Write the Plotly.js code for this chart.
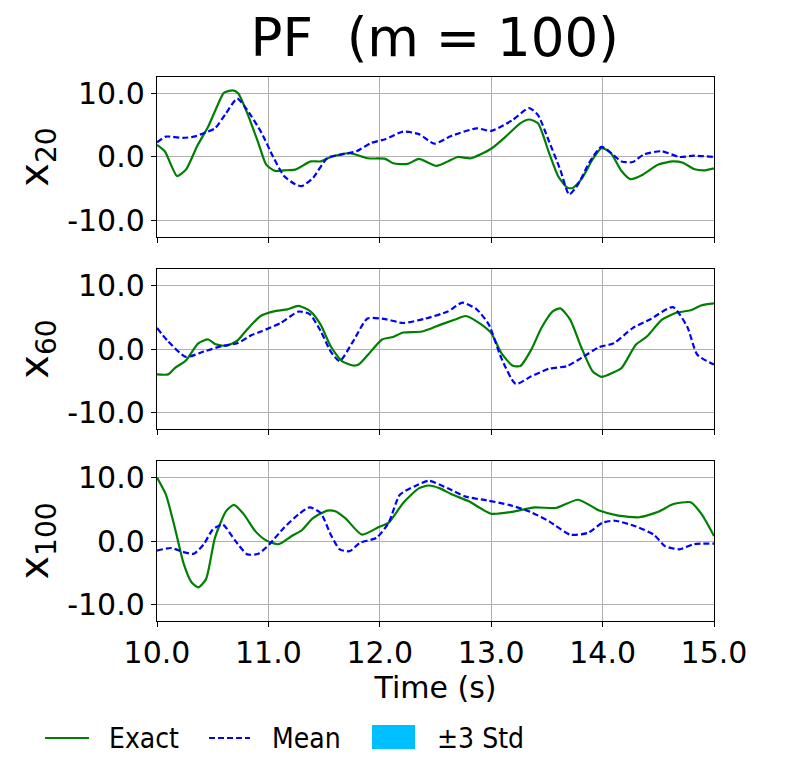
<!DOCTYPE html>
<html>
<head>
<meta charset="utf-8">
<script src="https://cdn.plot.ly/plotly-3.0.1.min.js"></script>
<style>
  body { margin: 0; background: #fff; }
  #plot { width: 805px; height: 781px; }
</style>
</head>
<body>
<div id="plot"></div>
<script>
// state x20: exact and PF mean
var t20Exact = [10.0, 10.07, 10.18, 10.26, 10.36, 10.46, 10.55, 10.6, 10.68, 10.73, 10.81, 10.91, 10.98, 11.06, 11.14, 11.24, 11.38, 11.47, 11.56, 11.73, 11.89, 12.05, 12.12, 12.25, 12.35, 12.51, 12.61, 12.7, 12.82, 13.0, 13.13, 13.26, 13.34, 13.42, 13.52, 13.6, 13.68, 13.73, 13.81, 13.91, 13.99, 14.07, 14.17, 14.25, 14.36, 14.5, 14.63, 14.72, 14.82, 14.92, 15.0];
var x20Exact = [1.9, 0.9, -3.0, -2.0, 1.7, 4.8, 8.4, 10.1, 10.5, 10.0, 6.9, 2.2, -1.2, -2.2, -2.1, -2.0, -0.7, -0.7, 0.0, 0.6, -0.2, -0.3, -1.0, -1.1, -0.3, -1.4, -0.7, 0.0, -0.2, 1.3, 3.2, 5.3, 5.9, 5.3, 0.6, -3.0, -4.8, -4.9, -3.5, -0.4, 1.4, 0.7, -2.2, -3.5, -2.8, -1.2, -0.7, -0.9, -1.9, -2.1, -1.8];
var t20Mean = [10.0, 10.08, 10.23, 10.33, 10.42, 10.52, 10.62, 10.72, 10.81, 10.94, 11.04, 11.14, 11.24, 11.3, 11.4, 11.53, 11.66, 11.79, 11.92, 12.05, 12.21, 12.35, 12.49, 12.64, 12.87, 13.0, 13.09, 13.19, 13.34, 13.42, 13.52, 13.62, 13.7, 13.78, 13.88, 13.99, 14.09, 14.17, 14.27, 14.37, 14.53, 14.69, 14.82, 15.0];
var x20Mean = [2.3, 3.2, 3.0, 3.2, 3.75, 4.5, 6.9, 9.2, 7.4, 3.75, 0.1, -3.0, -4.3, -4.6, -3.3, -0.15, 0.4, 0.9, 2.2, 2.8, 4.0, 3.6, 2.1, 3.3, 4.5, 4.1, 4.8, 5.8, 7.7, 6.6, 2.4, -2.0, -5.9, -4.3, -0.9, 1.6, 0.4, -0.7, -0.8, 0.4, 0.9, 0.0, 0.2, 0.0];

// state x60
var t60Exact = [10.0, 10.1, 10.16, 10.26, 10.37, 10.46, 10.52, 10.62, 10.72, 10.81, 10.93, 11.07, 11.17, 11.27, 11.38, 11.47, 11.56, 11.66, 11.76, 11.81, 11.89, 12.02, 12.12, 12.21, 12.38, 12.54, 12.67, 12.77, 12.9, 13.0, 13.09, 13.19, 13.26, 13.36, 13.45, 13.55, 13.62, 13.71, 13.81, 13.91, 13.99, 14.09, 14.17, 14.3, 14.4, 14.53, 14.66, 14.79, 14.89, 15.0];
var x60Exact = [-4.0, -4.0, -3.0, -1.8, 0.9, 1.5, 0.8, 0.5, 1.3, 3.1, 5.2, 6.0, 6.25, 6.8, 5.9, 3.8, 0.4, -1.9, -2.6, -2.45, -1.0, 1.5, 1.9, 2.6, 2.75, 3.8, 4.6, 5.2, 4.0, 2.5, -0.6, -2.6, -2.7, -0.1, 3.3, 5.9, 6.4, 4.6, 0.2, -3.5, -4.4, -3.75, -3.0, 0.7, 2.0, 4.6, 5.7, 6.1, 6.9, 7.2];
var t60Mean = [10.0, 10.1, 10.26, 10.42, 10.59, 10.72, 10.85, 10.94, 11.11, 11.27, 11.37, 11.47, 11.56, 11.64, 11.76, 11.89, 12.05, 12.21, 12.41, 12.61, 12.74, 12.87, 12.98, 13.09, 13.22, 13.36, 13.52, 13.68, 13.81, 13.97, 14.1, 14.27, 14.43, 14.63, 14.76, 14.85, 15.0];
var x60Mean = [3.3, 1.2, -1.25, -0.4, 0.5, 0.9, 2.2, 2.8, 4.1, 5.9, 5.5, 2.8, -0.4, -1.9, 1.2, 4.8, 4.7, 4.1, 4.8, 5.9, 7.3, 6.25, 3.8, -1.4, -5.5, -4.3, -3.1, -2.7, -1.4, 0.3, 0.9, 3.3, 4.7, 6.6, 3.5, -0.9, -2.45];

// state x100
var t100Exact = [10.0, 10.08, 10.16, 10.24, 10.31, 10.37, 10.44, 10.52, 10.62, 10.69, 10.78, 10.88, 10.98, 11.09, 11.21, 11.3, 11.4, 11.53, 11.6, 11.69, 11.84, 11.99, 12.08, 12.21, 12.35, 12.44, 12.54, 12.64, 12.8, 13.0, 13.19, 13.39, 13.58, 13.78, 13.97, 14.14, 14.33, 14.5, 14.63, 14.79, 14.89, 15.0];
var x100Exact = [10.0, 7.3, 2.1, -3.6, -6.5, -7.3, -6.0, 0.5, 4.7, 5.7, 4.2, 1.6, 0.1, -0.5, 0.8, 1.7, 3.6, 4.8, 4.7, 3.6, 1.0, 2.2, 2.9, 6.0, 8.3, 8.75, 8.3, 7.4, 6.25, 4.3, 4.6, 5.3, 5.2, 6.5, 4.8, 4.0, 3.75, 4.6, 5.8, 6.1, 4.2, 0.8];
var t100Mean = [10.0, 10.13, 10.23, 10.33, 10.42, 10.5, 10.59, 10.7, 10.81, 10.91, 11.01, 11.14, 11.27, 11.37, 11.47, 11.56, 11.64, 11.73, 11.82, 11.97, 12.08, 12.18, 12.31, 12.44, 12.61, 12.77, 12.96, 13.16, 13.35, 13.52, 13.71, 13.87, 14.0, 14.11, 14.3, 14.46, 14.56, 14.69, 14.82, 15.0];
var x100Mean = [-1.5, -1.1, -1.7, -2.0, -0.5, 1.8, 2.6, 0.1, -2.1, -2.0, -0.5, 2.1, 4.2, 5.3, 4.4, 1.0, -1.3, -1.6, -0.3, 0.5, 2.9, 7.3, 8.6, 9.5, 8.3, 7.0, 6.4, 5.7, 4.6, 3.1, 1.0, 1.3, 2.9, 3.2, 2.3, 1.0, -0.8, -1.3, -0.5, -0.4];

var xTicks = [10, 11, 12, 13, 14, 15];
var yTicks = [-10, 0, 10];
var yTickText = ['-10.0', '0.0', '10.0'];
var legendNames = ['Exact', 'Mean', '±3 Std'];

var font = 'DejaVu Sans, sans-serif';
var legendFont = 'DejaVu Sans Condensed, Liberation Sans Narrow, DejaVu Sans, sans-serif';
var exactColor = 'green';
var meanColor = 'blue';
var stdColor = '#00BFFF';
var meanDash = '6px,3px';

var panels = [
  {t1: t20Exact, y1: x20Exact, t2: t20Mean, y2: x20Mean, label: 'x<sub>20</sub>'},
  {t1: t60Exact, y1: x60Exact, t2: t60Mean, y2: x60Mean, label: 'x<sub>60</sub>'},
  {t1: t100Exact, y1: x100Exact, t2: t100Mean, y2: x100Mean, label: 'x<sub>100</sub>'}
];

var data = [];
panels.forEach(function (p, i) {
  var ax = i === 0 ? '' : String(i + 1);
  data.push({
    x: p.t1, y: p.y1, type: 'scatter', mode: 'lines',
    line: {color: exactColor, width: 2.2, shape: 'spline', smoothing: 0.6},
    name: legendNames[0], showlegend: false,
    xaxis: 'x' + ax, yaxis: 'y' + ax
  });
  data.push({
    x: p.t2, y: p.y2, type: 'scatter', mode: 'lines',
    line: {color: meanColor, width: 2.2, dash: meanDash, shape: 'spline', smoothing: 0.6},
    name: legendNames[1], showlegend: false,
    xaxis: 'x' + ax, yaxis: 'y' + ax
  });
});

var domains = [[0.706, 1], [0.353, 0.647], [0, 0.294]];

// legend drawn by hand below the plot (paper coords)
var legY = -0.2151;
var shapes = [
  {type: 'line', xref: 'paper', yref: 'paper', x0: -0.2011, x1: -0.1221, y0: legY, y1: legY,
   line: {color: exactColor, width: 2.2}},
  {type: 'line', xref: 'paper', yref: 'paper', x0: 0.0934, x1: 0.1670, y0: legY, y1: legY,
   line: {color: meanColor, width: 2.2, dash: meanDash}},
  {type: 'rect', xref: 'paper', yref: 'paper', x0: 0.3860, x1: 0.4632, y0: -0.2353, y1: -0.1912,
   fillcolor: stdColor, line: {width: 0}}
];
var legTextX = [-0.0898, 0.2029, 0.4991];
var annotations = legendNames.map(function (n, i) {
  return {text: n, xref: 'paper', yref: 'paper', x: legTextX[i], y: legY,
          xanchor: 'left', yanchor: 'middle', showarrow: false,
          font: {family: legendFont, size: 28, color: 'black'}};
});

var layout = {
  width: 805, height: 781,
  margin: {l: 157, r: 91, t: 77, b: 160},
  paper_bgcolor: 'white', plot_bgcolor: 'white',
  font: {family: font, color: 'black', size: 29},
  title: {text: 'PF  (m = 100)', x: 0.54, xanchor: 'center', y: 0.952, yanchor: 'middle',
          font: {family: font, size: 53, color: 'black'}},
  showlegend: false,
  shapes: shapes,
  annotations: annotations
};

panels.forEach(function (p, i) {
  var ax = i === 0 ? '' : String(i + 1);
  var last = i === panels.length - 1;
  layout['xaxis' + ax] = {
    domain: [0, 1], range: [10, 15], anchor: 'y' + ax,
    tickvals: xTicks, tickformat: '.1f', showticklabels: last,
    ticks: 'outside', ticklen: 5, tickcolor: 'black',
    showgrid: true, gridcolor: '#b0b0b0', gridwidth: 1,
    showline: true, linecolor: 'black', linewidth: 1.2, mirror: true,
    zeroline: false, tickfont: {size: 30},
    matches: i === 0 ? undefined : 'x',
    title: last ? {text: 'Time (s)', font: {size: 30}, standoff: 4} : undefined
  };
  layout['yaxis' + ax] = {
    domain: domains[i], range: [-12.6, 12.6], anchor: 'x' + ax,
    tickvals: yTicks, ticktext: yTickText,
    ticks: 'outside', ticklen: 5, tickcolor: 'black',
    showgrid: true, gridcolor: '#b0b0b0', gridwidth: 1,
    showline: true, linecolor: 'black', linewidth: 1.2, mirror: true,
    zeroline: false, tickfont: {size: 30},
    title: {text: p.label, font: {size: 40}, standoff: 6}
  };
});

Plotly.newPlot('plot', data, layout, {displayModeBar: false, staticPlot: true});
</script>
</body>
</html>
